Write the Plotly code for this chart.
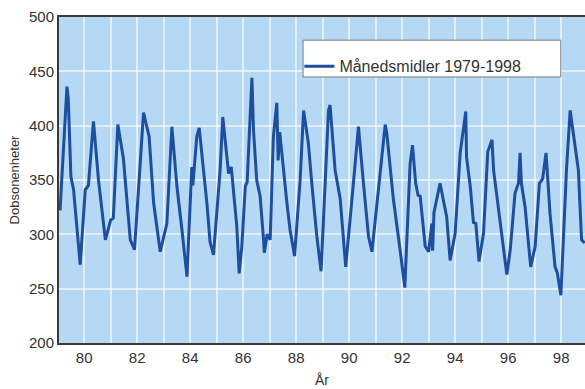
import plotly.graph_objects as go

# Decimal year (two-digit) and monthly mean ozone (Dobson units)
year = [79.09, 79.22, 79.35, 79.40, 79.50, 79.60, 79.85,
        80.04, 80.16, 80.35, 80.54, 80.80,
        81.00, 81.10, 81.27, 81.48, 81.74, 81.90,
        82.24, 82.45, 82.58, 82.62, 82.87,
        83.12, 83.31, 83.50, 83.69, 83.88,
        84.06, 84.10, 84.25, 84.34, 84.63, 84.75, 84.88,
        85.13, 85.23, 85.45, 85.55, 85.76, 85.85, 85.95,
        86.08, 86.15, 86.33, 86.39, 86.51, 86.64, 86.77, 86.80, 86.90,
        87.02, 87.14, 87.27, 87.32, 87.38, 87.65, 87.77, 87.94,
        88.15, 88.28, 88.46, 88.59, 88.78, 88.94,
        89.03, 89.22, 89.28, 89.47, 89.66, 89.87,
        90.16, 90.35, 90.54, 90.73, 90.86,
        91.05, 91.17, 91.36, 91.42, 91.67, 91.92,
        92.10, 92.30, 92.39, 92.51, 92.60, 92.68, 92.87,
        93.00, 93.12, 93.15, 93.20, 93.43, 93.68, 93.81,
        94.00, 94.19, 94.40, 94.43, 94.57, 94.69, 94.78, 94.90,
        95.07, 95.23, 95.39, 95.45, 95.64, 95.79, 95.95,
        96.08, 96.26, 96.39, 96.45, 96.50, 96.64, 96.85,
        97.02, 97.18, 97.30, 97.43, 97.58, 97.77, 97.85, 97.99,
        98.20, 98.34, 98.53, 98.65, 98.77, 98.89]
ozone = [322, 380, 436, 425, 353, 341, 272,
         341, 345, 404, 350, 295,
         313, 315, 401, 370, 295, 286,
         412, 390, 344, 329, 284,
         310, 399, 344, 304, 261,
         362, 345, 390, 398, 329, 293, 281,
         359, 408, 356, 362, 307, 264, 289,
         344, 348, 444, 396, 350, 335, 295, 283, 300,
         295, 390, 421, 368, 394, 329, 304, 280,
         350, 414, 384, 347, 298, 266,
         310, 414, 419, 359, 333, 270,
         347, 399, 347, 298, 284,
         329, 356, 401, 393, 332, 286,
         251, 365, 382, 347, 336, 335, 289,
         284, 310, 285, 320, 347, 316, 276,
         301, 375, 413, 371, 344, 311, 310, 275,
         301, 376, 387, 359, 322, 295, 263,
         286, 338, 347, 375, 347, 325, 270,
         289, 347, 351, 375, 319, 270, 265, 244,
         359, 414, 381, 359, 295, 292]

x_tick_vals = list(range(80, 99))
x_tick_text = [str(v) if v % 2 == 0 else "" for v in x_tick_vals]
y_tick_vals = [200, 250, 300, 350, 400, 450, 500]

series_name = "Månedsmidler 1979-1998"
line_color = "#1d4f9e"
font_family = "Liberation Sans, Arial, Helvetica, sans-serif"

fig = go.Figure()
fig.add_trace(go.Scatter(
    x=year, y=ozone, mode="lines", name=series_name,
    line=dict(color=line_color, width=3),
    showlegend=True,
))

# legend box
fig.add_shape(type="rect", xref="paper", yref="paper",
              x0=0.464, x1=0.954, y0=0.816, y1=0.929,
              fillcolor="white", line=dict(color="#7a7a7a", width=1), layer="above")

fig.update_layout(
    width=585, height=389,
    margin=dict(l=59, r=0, t=17, b=46, autoexpand=False),
    paper_bgcolor="white",
    plot_bgcolor="#b5d8f5",
    font=dict(family=font_family, size=15, color="#333333"),
    showlegend=True,
    legend=dict(x=0.457, y=0.849, xanchor="left", yanchor="middle",
                bgcolor="rgba(0,0,0,0)", borderwidth=0,
                font=dict(size=16, color="#333333"),
                itemwidth=30),
    xaxis=dict(
        range=[79.05, 98.9],
        tickvals=x_tick_vals, ticktext=x_tick_text,
        showgrid=True, gridcolor="rgba(255,255,255,0.6)", gridwidth=2,
        showline=True, linecolor="#3a3a3a", linewidth=2, mirror=True,
        ticks="", zeroline=False, automargin=False,
        title=dict(text="År", font=dict(size=14), standoff=10),
    ),
    yaxis=dict(
        range=[200, 500],
        tickvals=y_tick_vals,
        showgrid=True, gridcolor="rgba(255,255,255,0.6)", gridwidth=2,
        showline=True, linecolor="#3a3a3a", linewidth=2,
        ticks="", zeroline=False, automargin=False,
        title=dict(text="Dobsonenheter", font=dict(size=13), standoff=6),
    ),
)

fig.write_html("out.html",
               config={"displayModeBar": False},
               post_script="document.body.style.margin='0';document.body.style.padding='0';document.body.style.overflow='hidden';")
